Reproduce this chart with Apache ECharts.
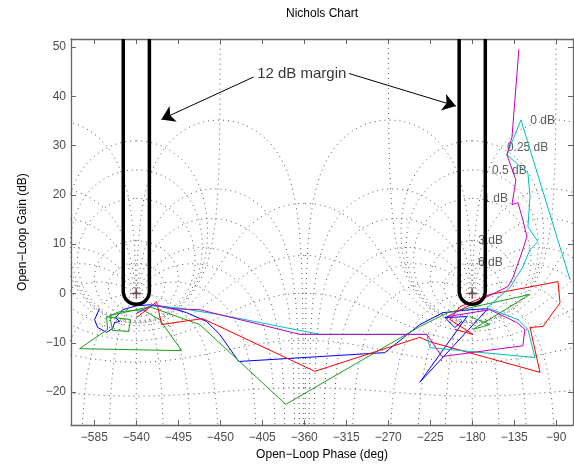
<!DOCTYPE html>
<html>
<head>
<meta charset="UTF-8">
<title>Nichols Chart</title>
<script src="https://cdn.jsdelivr.net/npm/echarts@6/dist/echarts.min.js"></script>
</head>
<body style="margin:0">
<div id="chart" style="width:574px;height:466px;"></div>
<script>
// axis ranges and ticks
var phaseMin = -610, phaseMax = -72;
var gainMin = -26.7, gainMax = 51.6;
var phaseTicks = [-585, -540, -495, -450, -405, -360, -315, -270, -225, -180, -135, -90];
var gainTicks = [-20, -10, 0, 10, 20, 30, 40, 50];

// closed-loop levels of the Nichols grid (dB and deg), repeated every 360 deg
var clGainsDb = [6, 3, 1, 0.5, 0.25, 0, -1, -3, -6, -12, -20, -40];
var clPhases = [-1, -5, -10, -20, -30, -50, -90, -120, -150, -180, -210, -240, -270, -310, -330, -340, -350, -355, -359];
var gridShifts = [0, -360];

var gridLabels = ['0 dB', '0.25 dB', '0.5 dB', '1 dB', '3 dB', '6 dB'];
var gridLabelPhase = [-91.3, -98.5, -121.6, -141.7, -147.1, -147.4];
var gridLabelGain = [35.0, 29.6, 24.8, 19.3, 10.7, 6.2];

// 12 dB margin bands round the critical points
var marginCenters = [-540, -180];
var marginHalfWidth = 14;
var marginBottom = -2.2;
var arrowFrom = [[-414.2, 43.9], [-311.9, 44.6]];
var arrowTo = [[-513.2, 35.3], [-197.5, 38.0]];
var marginText = [-362.7, 44.6];

// open-loop responses [phase deg, gain dB]
var blueData = [[-579.4,-3.1],[-584.7,-5.3],[-581.5,-6.9],[-571.9,-7.9],[-565.4,-7.1],[-563.3,-5.9],[-557.9,-5.7],[-562.2,-4.9],[-554.7,-3.3],[-539.7,-2.5],[-525.7,-2.3],[-507.5,-2.7],[-486.0,-3.9],[-464.6,-5.7],[-450.6,-8.3],[-430.2,-13.8],[-273.6,-12.0],[-236.1,-6.3],[-211.4,-3.9],[-182.5,-3.3],[-163.2,-3.1],[-236.1,-18.0],[-185.7,-4.7],[-209.3,-4.9],[-198.6,-6.9],[-191.1,-5.7]];
var greenData = [[-568.6,-4.5],[-557.9,-3.7],[-533.2,-3.3],[-515.0,-5.3],[-491.4,-11.6],[-600.8,-11.2],[-570.8,-7.3],[-571.9,-4.7],[-546.1,-5.3],[-548.3,-7.7],[-565.4,-7.5],[-568.6,-4.5],[-525.7,-2.7],[-472.1,-6.3],[-379.8,-22.5],[-236.1,-6.7],[-206.1,-3.9],[-118.1,-0.2],[-179.3,-7.3],[-161.0,-6.3],[-182.5,-4.7]];
var redData = [[-539.7,-4.9],[-518.2,-1.7],[-512.9,-6.3],[-468.9,-5.1],[-348.7,-15.8],[-236.1,-8.9],[-225.4,-9.8],[-107.4,-16.0],[-118.1,-6.9],[-104.2,-6.7],[-85.9,-1.9],[-88.1,2.4],[-161.0,-0.2],[-193.2,-2.7],[-204.0,-5.3],[-179.3,-8.3],[-198.6,-7.3]];
var cyanData = [[-539.7,-3.9],[-523.6,-2.5],[-496.8,-2.9],[-450.6,-4.3],[-343.4,-8.3],[-228.6,-8.3],[-225.4,-11.0],[-112.8,-13.0],[-120.3,-7.3],[-131.0,-5.3],[-164.2,-2.9],[-139.6,1.2],[-125.7,5.4],[-118.1,8.9],[-109.6,10.5],[-120.3,13.5],[-118.1,19.6],[-120.3,24.4],[-142.8,28.1],[-127.8,35.2],[-75.2,2.8]];
var magentaData = [[-539.7,-4.1],[-522.5,-2.3],[-504.3,-3.1],[-472.1,-3.3],[-364.8,-8.3],[-228.6,-8.3],[-212.5,-12.8],[-125.7,-10.6],[-123.6,-7.3],[-132.1,-5.9],[-161.0,-3.3],[-207.1,-4.7],[-141.7,1.4],[-136.4,3.2],[-126.8,8.3],[-121.4,11.5],[-125.7,14.9],[-131.0,18.4],[-137.4,18.0],[-133.2,23.0],[-142.8,28.1],[-137.4,31.7],[-130.0,49.5]];

var font = '"Liberation Sans", Arial, sans-serif';
var minus = function (v) { return String(v).replace('-', '\u2212'); };

// closed loop m*e^(j th) -> open loop [phase, dB]
function olPoint(m, thDeg) {
    var th = thDeg * Math.PI / 180;
    var dr = 1 - m * Math.cos(th), di = -m * Math.sin(th);
    var ph = thDeg - Math.atan2(di, dr) * 180 / Math.PI;
    var g = 20 * Math.log10(m / Math.sqrt(dr * dr + di * di));
    return [ph, Math.max(-150, Math.min(150, g))];
}

var series = [];
var gridStyle = {color: '#555', width: 1, type: [1, 4]};
gridShifts.forEach(function (sh) {
    clGainsDb.forEach(function (db) {
        var m = Math.pow(10, db / 20), pts = [], n = 700;
        for (var i = 0; i < n; i++) {
            var t = (i + 0.5) / n;
            var p = olPoint(m, -360 * (3 * t * t - 2 * t * t * t));
            pts.push([p[0] + sh, p[1]]);
        }
        if (m > 1) pts.push(pts[0]);
        series.push({type: 'line', data: pts, symbol: 'none', silent: true, z: 1, lineStyle: gridStyle});
    });
    clPhases.forEach(function (ph) {
        var pts = [], n = 601;
        for (var i = 0; i < n; i++) {
            var u = -1.4 + 2.8 * i / (n - 1);
            var p = olPoint(Math.pow(10, u * u * u), ph);
            pts.push([p[0] + sh, p[1]]);
        }
        series.push({type: 'line', data: pts, symbol: 'none', silent: true, z: 1, lineStyle: gridStyle});
    });
});

series.push({
    type: 'scatter', symbolSize: 0, z: 2, silent: true,
    data: gridLabels.map(function (s, i) { return {name: s, value: [gridLabelPhase[i], gridLabelGain[i]]}; }),
    label: {show: true, position: 'left', distance: 0, formatter: '{b}', color: '#333', fontSize: 12, fontFamily: font}
});

[['#0000ff', blueData], ['#1a9e1a', greenData], ['#ff0000', redData], ['#00bfbf', cyanData], ['#bf00bf', magentaData]].forEach(function (s) {
    series.push({type: 'line', data: s[1], symbol: 'none', z: 3, lineStyle: {color: s[0], width: 1}});
});

series.push({
    type: 'custom', z: 4, silent: true,
    data: marginCenters.map(function (c) { return [c, marginHalfWidth, marginBottom, gainMax, 0]; }),
    renderItem: function (params, api) {
        var c = api.value(0), hw = api.value(1);
        var pl = api.coord([c - hw, api.value(3)]);
        var pr = api.coord([c + hw, api.value(3)]);
        var pb = api.coord([c, api.value(2)]);
        var pc = api.coord([c, api.value(4)]);
        var r = (pr[0] - pl[0]) / 2, cy = pb[1] - r;
        return {
            type: 'group',
            children: [{
                type: 'path',
                shape: {pathData: 'M' + pl[0] + ' ' + pl[1] + 'L' + pl[0] + ' ' + cy + 'A' + r + ' ' + r + ' 0 0 0 ' + pr[0] + ' ' + cy + 'L' + pr[0] + ' ' + pr[1]},
                style: {stroke: '#000', lineWidth: 3.5, fill: 'none'}
            }, {
                type: 'line', shape: {x1: pc[0] - 5, y1: pc[1], x2: pc[0] + 5, y2: pc[1]},
                style: {stroke: '#6e5252', lineWidth: 1.5}
            }, {
                type: 'line', shape: {x1: pc[0], y1: pc[1] - 5, x2: pc[0], y2: pc[1] + 5},
                style: {stroke: '#6e5252', lineWidth: 1.5}
            }]
        };
    }
});

series.push({
    type: 'lines', coordinateSystem: 'cartesian2d', z: 5, silent: true,
    symbol: ['none', 'arrow'], symbolSize: 13,
    lineStyle: {color: '#000', width: 1, opacity: 1},
    data: arrowFrom.map(function (a, i) { return {coords: [a, arrowTo[i]]}; })
});
series.push({
    type: 'scatter', symbolSize: 0, z: 5, silent: true,
    data: [{name: '12 dB margin', value: marginText}],
    label: {show: true, position: 'inside', formatter: '{b}', color: '#000', fontSize: 15, fontFamily: font}
});

var axisLine = {show: true, onZero: false, lineStyle: {color: '#666', width: 1.3}};
var chart = echarts.init(document.getElementById('chart'));
chart.setOption({
    animation: false,
    backgroundColor: '#fff',
    grid: {left: 71, right: 1, top: 39, bottom: 40},
    graphic: [{type: 'text', x: 322, y: 14, style: {text: 'Nichols Chart', fill: '#000', fontSize: 12, fontFamily: font, align: 'center', verticalAlign: 'middle'}}],
    xAxis: [{
        type: 'value', min: phaseMin, max: phaseMax, position: 'bottom',
        name: 'Open\u2212Loop Phase (deg)', nameLocation: 'middle', nameGap: 21,
        nameTextStyle: {color: '#000', fontSize: 12, fontFamily: font},
        axisLine: axisLine, splitLine: {show: false},
        axisTick: {inside: true, length: 5, customValues: phaseTicks, lineStyle: {color: '#666'}},
        axisLabel: {customValues: phaseTicks, formatter: minus, color: '#4d4d4d', fontSize: 12, fontFamily: font, margin: 7}
    }, {
        type: 'value', min: phaseMin, max: phaseMax, position: 'top',
        axisLine: axisLine, splitLine: {show: false},
        axisTick: {inside: true, length: 5, customValues: phaseTicks, lineStyle: {color: '#666'}},
        axisLabel: {show: false}
    }],
    yAxis: [{
        type: 'value', min: gainMin, max: gainMax, position: 'left',
        name: 'Open\u2212Loop Gain (dB)', nameLocation: 'middle', nameGap: 42,
        nameTextStyle: {color: '#000', fontSize: 12, fontFamily: font},
        axisLine: axisLine, splitLine: {show: false},
        axisTick: {inside: true, length: 5, customValues: gainTicks, lineStyle: {color: '#666'}},
        axisLabel: {customValues: gainTicks, formatter: minus, color: '#4d4d4d', fontSize: 12, fontFamily: font, margin: 5}
    }, {
        type: 'value', min: gainMin, max: gainMax, position: 'right',
        axisLine: axisLine, splitLine: {show: false},
        axisTick: {inside: true, length: 5, customValues: gainTicks, lineStyle: {color: '#666'}},
        axisLabel: {show: false}
    }],
    series: series
});
</script>
</body>
</html>
